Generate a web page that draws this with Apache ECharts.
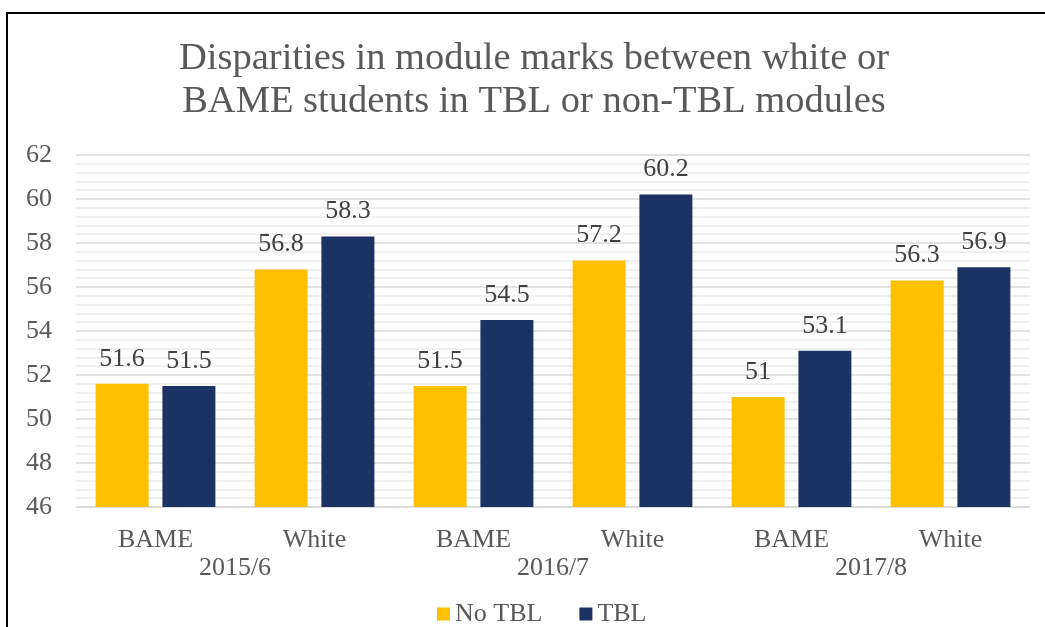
<!DOCTYPE html>
<html>
<head>
<meta charset="utf-8">
<script src="https://cdn.jsdelivr.net/npm/echarts@6/dist/echarts.min.js"></script>
<style>
  html, body { margin: 0; padding: 0; background: #fff; }
  #chart { width: 1045px; height: 627px; position: absolute; left: 0; top: 0; }
  #frame {
    position: absolute; left: 6px; top: 12px; width: 1100px; height: 700px;
    border-left: 2px solid #000; border-top: 2px solid #000; pointer-events: none;
  }
</style>
</head>
<body>
<div id="chart"></div>
<div id="frame"></div>
<script>
// groups along the x axis
const groups = ['BAME', 'White', 'BAME', 'White', 'BAME', 'White']
const years = ['2015/6', '2016/7', '2017/8']
// module marks
const noTbl = [51.6, 56.8, 51.5, 57.2, 51, 56.3]
const tbl = [51.5, 58.3, 54.5, 60.2, 53.1, 56.9]

const serif = "'Liberation Serif', 'Times New Roman', serif"

let myChart = echarts.init(document.getElementById('chart'))
let option = {
  animation: false,
  color: ['#FFC000', '#1C3262'],
  textStyle: { fontFamily: serif },
  graphic: [{
    type: 'text',
    x: 534,
    y: 37,
    style: {
      text: 'Disparities in module marks between white or\nBAME students in TBL or non-TBL modules',
      font: '38.5px ' + serif,
      fill: '#595959',
      align: 'center',
      verticalAlign: 'top',
      lineHeight: 43
    }
  }],
  legend: {
    left: 432,
    top: 596,
    icon: 'rect',
    itemWidth: 13,
    itemHeight: 13,
    itemGap: 37,
    textStyle: { fontSize: 26, color: '#595959', fontFamily: serif },
    data: ['No TBL', 'TBL']
  },
  grid: {
    left: 76,
    right: 15,
    top: 155,
    bottom: 120,
    containLabel: false
  },
  xAxis: [{
    type: 'category',
    data: groups,
    axisLine: { show: true, lineStyle: { color: '#d9d9d9', width: 1.5 } },
    axisTick: { show: false },
    axisLabel: { margin: 20, fontSize: 26, color: '#595959', fontFamily: serif }
  }, {
    type: 'category',
    data: years,
    position: 'bottom',
    axisLine: { show: false },
    axisTick: { show: false },
    splitLine: { show: false },
    axisLabel: { margin: 48, fontSize: 26, color: '#595959', fontFamily: serif }
  }],
  yAxis: {
    type: 'value',
    min: 46,
    max: 62,
    interval: 2,
    axisLine: { show: false },
    axisTick: { show: false },
    axisLabel: { margin: 24, fontSize: 26, color: '#595959', fontFamily: serif },
    splitLine: { lineStyle: { color: '#d9d9d9', width: 1.5 } },
    minorTick: { show: false, splitNumber: 5 },
    minorSplitLine: { show: true, lineStyle: { color: '#ececec', width: 1.5 } }
  },
  series: [{
    name: 'No TBL',
    type: 'bar',
    xAxisIndex: 0,
    barWidth: 53,
    barGap: '26%',
    data: noTbl,
    label: { show: true, position: 'top', distance: 12, fontSize: 26, color: '#404040', fontFamily: serif }
  }, {
    name: 'TBL',
    type: 'bar',
    xAxisIndex: 0,
    barWidth: 53,
    barGap: '26%',
    data: tbl,
    label: { show: true, position: 'top', distance: 12, fontSize: 26, color: '#404040', fontFamily: serif }
  }]
}
myChart.setOption(option)
window.addEventListener('resize', function () {
  myChart.resize()
})
</script>
</body>
</html>
